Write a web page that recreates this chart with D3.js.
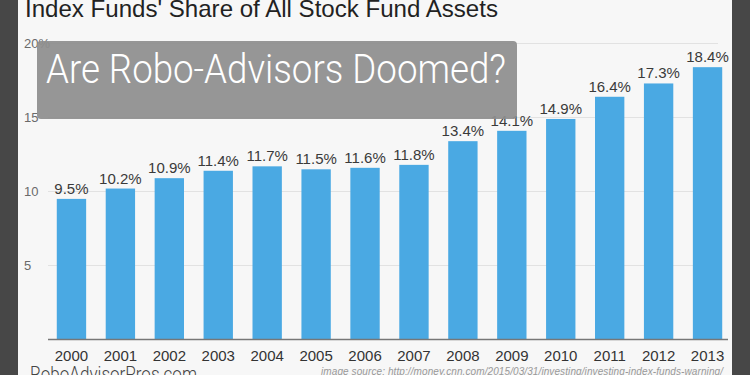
<!DOCTYPE html>
<html>
<head>
<meta charset="utf-8">
<script src="https://cdn.jsdelivr.net/npm/d3@7"></script>
<style>
  body { margin: 0; background: #474747; }
  svg { display: block; }
</style>
</head>
<body>
<div id="chart"></div>
<script>
// chart data
var years = ["2000", "2001", "2002", "2003", "2004", "2005", "2006",
             "2007", "2008", "2009", "2010", "2011", "2012", "2013"];
var shares = [9.5, 10.2, 10.9, 11.4, 11.7, 11.5, 11.6, 11.8, 13.4, 14.1, 14.9, 16.4, 17.3, 18.4];
var yTicks = [5, 10, 15, 20];

var svgWidth = 750;
var svgHeight = 375;

var svg = d3.select("#chart")
  .append("svg")
  .attr("width", svgWidth)
  .attr("height", svgHeight);

// dark frame on both sides, light panel in the middle
svg.append("rect")
  .attr("width", svgWidth)
  .attr("height", svgHeight)
  .attr("fill", "#474747");

svg.append("rect")
  .attr("x", 18)
  .attr("width", 714)
  .attr("height", svgHeight)
  .attr("fill", "#f7f7f7");

// scales
var xScale = d3.scaleBand()
  .domain(years)
  .range([47, 732])
  .paddingInner(0.4)
  .paddingOuter(0.2);

var yScale = d3.scaleLinear()
  .domain([0, 20])
  .range([339.5, 43.5]);

// gridlines
svg.append("g")
  .selectAll("line")
  .data(yTicks)
  .enter()
  .append("line")
  .attr("x1", 48)
  .attr("x2", 718)
  .attr("y1", d => yScale(d))
  .attr("y2", d => yScale(d))
  .attr("stroke", "#e2e2e2")
  .attr("stroke-width", 1);

// y tick labels
svg.append("g")
  .selectAll("text")
  .data(yTicks)
  .enter()
  .append("text")
  .attr("x", 24)
  .attr("y", d => yScale(d))
  .attr("dy", "0.35em")
  .attr("font-family", "Liberation Sans, Arial, sans-serif")
  .attr("font-size", "13px")
  .attr("fill", "#6a6a6a")
  .text(d => d === 20 ? "20%" : d);

// bars
svg.append("g")
  .selectAll("rect")
  .data(shares)
  .enter()
  .append("rect")
  .attr("x", (d, i) => xScale(years[i]))
  .attr("y", d => yScale(d))
  .attr("width", xScale.bandwidth())
  .attr("height", d => yScale(0) - yScale(d))
  .attr("fill", "#4aa9e3");

// value labels
svg.append("g")
  .selectAll("text")
  .data(shares)
  .enter()
  .append("text")
  .attr("x", (d, i) => xScale(years[i]) + xScale.bandwidth() / 2)
  .attr("y", d => yScale(d) - 5)
  .attr("text-anchor", "middle")
  .attr("font-family", "Liberation Sans, Arial, sans-serif")
  .attr("font-size", "15px")
  .attr("fill", "#3a3a3a")
  .text(d => d.toFixed(1) + "%");

// x axis
var bottomAxis = d3.axisBottom(xScale).tickSize(0).tickPadding(11);
var xAxis = svg.append("g")
  .attr("transform", `translate(0, ${yScale(0)})`)
  .call(bottomAxis);

xAxis.select(".domain")
  .attr("d", "M48,0H728")
  .attr("stroke", "#777")
  .attr("stroke-width", 1.5);

xAxis.selectAll("text")
  .attr("font-family", "Liberation Sans, Arial, sans-serif")
  .attr("font-size", "15px")
  .attr("fill", "#333");

// title
svg.append("text")
  .attr("x", 25)
  .attr("y", 17)
  .attr("font-family", "Liberation Sans, Arial, sans-serif")
  .attr("font-size", "24px")
  .attr("fill", "#222")
  .attr("textLength", 473)
  .attr("lengthAdjust", "spacingAndGlyphs")
  .text("Index Funds' Share of All Stock Fund Assets");

// overlay banner
svg.append("rect")
  .attr("x", 37)
  .attr("y", 41)
  .attr("width", 480)
  .attr("height", 78)
  .attr("rx", 4)
  .attr("fill", "#8e8e8e")
  .attr("opacity", 0.93);

svg.append("text")
  .attr("x", 46)
  .attr("y", 83)
  .attr("font-family", "Roboto, sans-serif")
  .attr("font-weight", 300)
  .attr("font-size", "40px")
  .attr("fill", "#fff")
  .attr("textLength", 460)
  .attr("lengthAdjust", "spacingAndGlyphs")
  .text("Are Robo-Advisors Doomed?");

// footer
svg.append("text")
  .attr("x", 30)
  .attr("y", 381)
  .attr("font-family", "Roboto, sans-serif")
  .attr("font-weight", 300)
  .attr("font-size", "20px")
  .attr("fill", "#444")
  .attr("textLength", 167)
  .attr("lengthAdjust", "spacingAndGlyphs")
  .text("RoboAdvisorPros.com");

svg.append("text")
  .attr("x", 321)
  .attr("y", 375)
  .attr("font-family", "Liberation Sans, Arial, sans-serif")
  .attr("font-style", "italic")
  .attr("font-size", "10px")
  .attr("fill", "#999")
  .attr("textLength", 402)
  .text("image source: http://money.cnn.com/2015/03/31/investing/investing-index-funds-warning/");
</script>
</body>
</html>
